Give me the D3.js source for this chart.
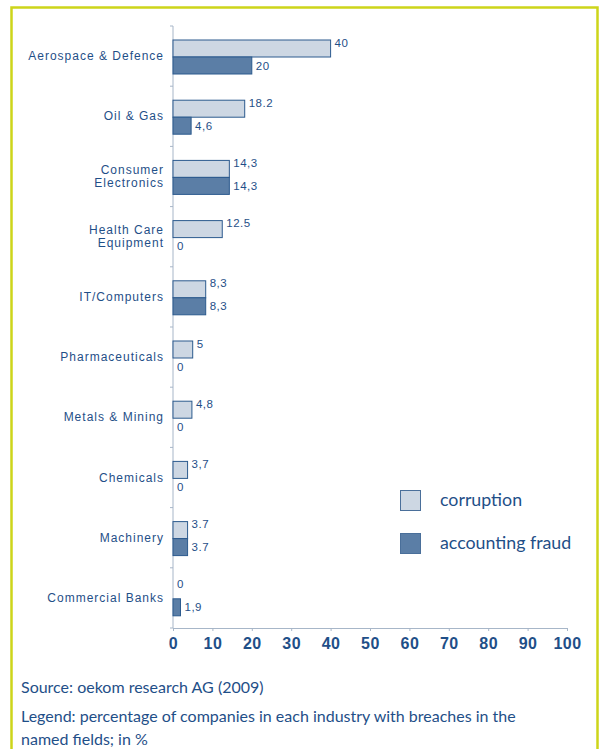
<!DOCTYPE html>
<html><head><meta charset="utf-8">
<script src="https://cdn.jsdelivr.net/npm/d3@7"></script>
<style>body{margin:0;background:#fff;} svg{display:block;}</style>
</head><body>
<script>
const categories = [["Aerospace & Defence"],["Oil & Gas"],["Consumer","Electronics"],["Health Care","Equipment"],["IT/Computers"],["Pharmaceuticals"],["Metals & Mining"],["Chemicals"],["Machinery"],["Commercial Banks"]];
const corruption = [40, 18.2, 14.3, 12.5, 8.3, 5, 4.8, 3.7, 3.7, 0];
const fraud = [20, 4.6, 14.3, 0, 8.3, 0, 0, 0, 3.7, 1.9];
const corruptionLabels = ["40","18.2","14,3","12.5","8,3","5","4,8","3,7","3.7","0"];
const fraudLabels = ["20","4,6","14,3","0","8,3","0","0","0","3.7","1,9"];
const xTicks = [0,10,20,30,40,50,60,70,80,90,100];
const seriesNames = ["corruption","accounting fraud"];

const W = 602, H = 749;
const svg = d3.select("body").append("svg").attr("width", W).attr("height", H);
const dark = "#1f4f88";

// frame
svg.append("path").attr("d", `M11.5,${H+5} V7.5 H597.5 V${H+5}`).attr("fill","none").attr("stroke","#cdd51a").attr("stroke-width",2.5);

const x = d3.scaleLinear().domain([0,100]).range([173,567]);
const y = d3.scaleBand().domain(d3.range(categories.length)).range([26,628]);
const barH = 17, gapTop = 14;

// y axis line
svg.append("line").attr("x1",173).attr("x2",173).attr("y1",26).attr("y2",628).attr("stroke","#a7b6c8").attr("stroke-width",1);
const bounds = d3.range(categories.length+1).map(i => i < categories.length ? y(i) : y.range()[1]);
svg.selectAll(".yt").data(bounds).join("line").attr("x1",170).attr("x2",173).attr("y1",d=>d).attr("y2",d=>d).attr("stroke","#a7b6c8");

// x axis
const xa = svg.append("g").attr("transform","translate(0,628)").call(d3.axisBottom(x).tickValues(xTicks).tickSize(3).tickPadding(7).tickFormat(d3.format("d")));
xa.select(".domain").attr("stroke","#a7b6c8");
xa.selectAll(".tick line").attr("stroke","#a7b6c8");
xa.selectAll("text").attr("fill",dark).attr("font-family","Liberation Sans, Arial, sans-serif").attr("font-size",16).attr("font-weight","bold").attr("letter-spacing","0.5");

const lblFont = "Liberation Sans, Arial, sans-serif";
const g = svg.append("g");
categories.forEach((c,i) => {
  const y0 = y(i) + gapTop;
  g.append("rect").attr("x",x(0)).attr("y",y0).attr("width",x(corruption[i])-x(0)).attr("height",barH)
    .attr("fill","#cdd7e3").attr("stroke", corruption[i]>0 ? "#2c5a8e":"none").attr("stroke-width",1);
  g.append("rect").attr("x",x(0)).attr("y",y0+barH).attr("width",x(fraud[i])-x(0)).attr("height",barH)
    .attr("fill","#5b7ea6").attr("stroke", fraud[i]>0 ? "#2c5a8e":"none").attr("stroke-width",1);
  g.append("text").attr("x",x(corruption[i])+4).attr("y",y0+barH/2-2).attr("font-size",11.5)
    .attr("font-family",lblFont).attr("fill",dark).attr("letter-spacing","0.5").text(corruptionLabels[i]);
  g.append("text").attr("x",x(fraud[i])+4).attr("y",y0+barH+barH/2+4).attr("font-size",11.5)
    .attr("font-family",lblFont).attr("fill",dark).attr("letter-spacing","0.5").text(fraudLabels[i]);
  const cy = y(i) + y.bandwidth()/2;
  const t = g.append("text").attr("text-anchor","end").attr("font-size",12).attr("letter-spacing","1")
    .attr("font-family",lblFont).attr("fill",dark);
  c.forEach((line,k) => {
    t.append("tspan").attr("x",164).attr("y", cy + 4 + (k - (c.length-1)/2)*13).text(line);
  });
});

// legend
const lg = svg.append("g");
const legColors = ["#cdd7e3","#5b7ea6"];
seriesNames.forEach((n,i) => {
  const ly = 490 + i*43;
  lg.append("rect").attr("x",400.5).attr("y",ly+0.5).attr("width",20).attr("height",20).attr("fill",legColors[i]).attr("stroke","#4a6f9a");
  lg.append("text").attr("x",440).attr("y",ly+16).attr("font-family","Lato, 'Open Sans', sans-serif").attr("font-size",17.8).attr("fill",dark).text(n);
});

// footer
const ft = svg.append("g").attr("font-family","Lato, 'Open Sans', sans-serif").attr("font-size",16).attr("fill",dark);
ft.append("text").attr("x",21).attr("y",693).text("Source: oekom research AG (2009)");
ft.append("text").attr("x",21).attr("y",722).text("Legend: percentage of companies in each industry with breaches in the");
ft.append("text").attr("x",21).attr("y",745).text("named fields; in %");
</script>
</body></html>
